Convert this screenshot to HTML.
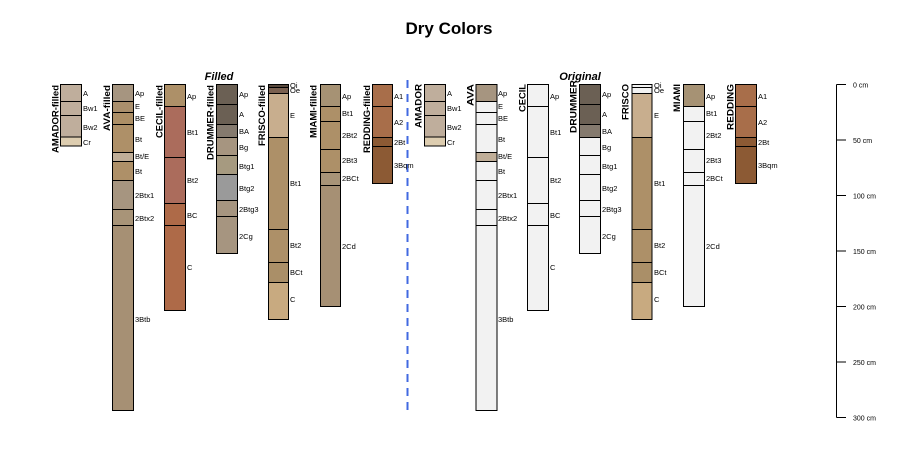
<!DOCTYPE html>
<html><head><meta charset="utf-8"><style>
html,body{margin:0;padding:0;background:#fff}
svg{display:block}
text{font-family:"Liberation Sans",Arial,sans-serif}
.h{font-size:7.5px;fill:#000}
.n{font-size:9px;font-weight:bold;fill:#000}
.a{font-size:7px;fill:#000}
rect{stroke:#000;stroke-width:1}
</style></head><body>
<svg width="900" height="450" viewBox="0 0 900 450" xmlns="http://www.w3.org/2000/svg">
<text x="449" y="34" text-anchor="middle" style="font-size:17px;font-weight:bold">Dry Colors</text>
<text x="219" y="80" text-anchor="middle" style="font-size:11px;font-weight:bold;font-style:italic">Filled</text>
<text x="580" y="80" text-anchor="middle" style="font-size:11px;font-weight:bold;font-style:italic">Original</text>
<line x1="407.5" y1="80" x2="407.5" y2="410" stroke="#4169e1" stroke-width="2" stroke-dasharray="8,6"/>

<!-- FILLED -->
<text class="n" transform="translate(58.3,85) rotate(-90)" text-anchor="end" textLength="68" lengthAdjust="spacingAndGlyphs">AMADOR-filled</text>
<rect x="60.5" y="84.5" width="21" height="17" fill="#bfae9c"/><rect x="60.5" y="101.5" width="21" height="14" fill="#bfae9c"/><rect x="60.5" y="115.5" width="21" height="21.5" fill="#bfae9c"/><rect x="60.5" y="137" width="21" height="9" fill="#ddcdb0"/>
<text class="h" x="83" y="96">A</text><text class="h" x="83" y="111">Bw1</text><text class="h" x="83" y="130">Bw2</text><text class="h" x="83" y="145">Cr</text>

<text class="n" transform="translate(110,85) rotate(-90)" text-anchor="end" textLength="46" lengthAdjust="spacingAndGlyphs">AVA-filled</text>
<rect x="112.5" y="84.5" width="21" height="17" fill="#a69580"/><rect x="112.5" y="101.5" width="21" height="11" fill="#aa8f6c"/><rect x="112.5" y="112.5" width="21" height="12" fill="#ad8f66"/><rect x="112.5" y="124.5" width="21" height="28" fill="#ae9068"/><rect x="112.5" y="152.5" width="21" height="9" fill="#c0ae98"/><rect x="112.5" y="161.5" width="21" height="19" fill="#ae9068"/><rect x="112.5" y="180.5" width="21" height="29" fill="#a69580"/><rect x="112.5" y="209.5" width="21" height="16" fill="#a89478"/><rect x="112.5" y="225.5" width="21" height="185" fill="#a69074"/>
<text class="h" x="135" y="96">Ap</text><text class="h" x="135" y="109">E</text><text class="h" x="135" y="121">BE</text><text class="h" x="135" y="142">Bt</text><text class="h" x="135" y="159">Bt/E</text><text class="h" x="135" y="174">Bt</text><text class="h" x="135" y="198">2Btx1</text><text class="h" x="135" y="221">2Btx2</text><text class="h" x="135" y="322">3Btb</text>

<text class="n" transform="translate(162.7,85) rotate(-90)" text-anchor="end" textLength="53" lengthAdjust="spacingAndGlyphs">CECIL-filled</text>
<rect x="164.5" y="84.5" width="21" height="22" fill="#ad9068"/><rect x="164.5" y="106.5" width="21" height="51" fill="#ab6c5c"/><rect x="164.5" y="157.5" width="21" height="46" fill="#ab6c5c"/><rect x="164.5" y="203.5" width="21" height="22" fill="#ae6a48"/><rect x="164.5" y="225.5" width="21" height="85" fill="#ae6a48"/>
<text class="h" x="187" y="99">Ap</text><text class="h" x="187" y="135">Bt1</text><text class="h" x="187" y="183">Bt2</text><text class="h" x="187" y="218">BC</text><text class="h" x="187" y="270">C</text>

<text class="n" transform="translate(213.3,85) rotate(-90)" text-anchor="end" textLength="75" lengthAdjust="spacingAndGlyphs">DRUMMER-filled</text>
<rect x="216.5" y="84.5" width="21" height="20" fill="#6b6054"/><rect x="216.5" y="104.5" width="21" height="20" fill="#6b6054"/><rect x="216.5" y="124.5" width="21" height="13" fill="#857a6e"/><rect x="216.5" y="137.5" width="21" height="18" fill="#a69580"/><rect x="216.5" y="155.5" width="21" height="19" fill="#a69a80"/><rect x="216.5" y="174.5" width="21" height="26" fill="#9a9a9a"/><rect x="216.5" y="200.5" width="21" height="16" fill="#a69580"/><rect x="216.5" y="216.5" width="21" height="37" fill="#a69580"/>
<text class="h" x="239" y="97">Ap</text><text class="h" x="239" y="117">A</text><text class="h" x="239" y="134">BA</text><text class="h" x="239" y="150">Bg</text><text class="h" x="239" y="169">Btg1</text><text class="h" x="239" y="191">Btg2</text><text class="h" x="239" y="212">2Btg3</text><text class="h" x="239" y="239">2Cg</text>

<text class="n" transform="translate(265,85) rotate(-90)" text-anchor="end" textLength="61" lengthAdjust="spacingAndGlyphs">FRISCO-filled</text>
<rect x="268.5" y="84.5" width="20" height="3" fill="#5a4a3e"/><rect x="268.5" y="87.5" width="20" height="6" fill="#7a6050"/><rect x="268.5" y="93.5" width="20" height="44" fill="#c8ae8e"/><rect x="268.5" y="137.5" width="20" height="92" fill="#ad9068"/><rect x="268.5" y="229.5" width="20" height="33" fill="#ad9068"/><rect x="268.5" y="262.5" width="20" height="20" fill="#aa8f68"/><rect x="268.5" y="282.5" width="20" height="37" fill="#c8aa80"/>
<text class="h" x="290" y="88">Oi</text><text class="h" x="290" y="93">Oe</text><text class="h" x="290" y="118">E</text><text class="h" x="290" y="186">Bt1</text><text class="h" x="290" y="248">Bt2</text><text class="h" x="290" y="275">BCt</text><text class="h" x="290" y="302">C</text>

<text class="n" transform="translate(316.7,85) rotate(-90)" text-anchor="end" textLength="53" lengthAdjust="spacingAndGlyphs">MIAMI-filled</text>
<rect x="320.5" y="84.5" width="20" height="22" fill="#a69274"/><rect x="320.5" y="106.5" width="20" height="15" fill="#ad9068"/><rect x="320.5" y="121.5" width="20" height="28" fill="#ad9068"/><rect x="320.5" y="149.5" width="20" height="23" fill="#ad9068"/><rect x="320.5" y="172.5" width="20" height="13" fill="#a89478"/><rect x="320.5" y="185.5" width="20" height="121" fill="#a69074"/>
<text class="h" x="342" y="99">Ap</text><text class="h" x="342" y="116">Bt1</text><text class="h" x="342" y="138">2Bt2</text><text class="h" x="342" y="163">2Bt3</text><text class="h" x="342" y="181">2BCt</text><text class="h" x="342" y="249">2Cd</text>

<text class="n" transform="translate(370,85) rotate(-90)" text-anchor="end" textLength="68" lengthAdjust="spacingAndGlyphs">REDDING-filled</text>
<rect x="372.5" y="84.5" width="20" height="22" fill="#a86e4a"/><rect x="372.5" y="106.5" width="20" height="31" fill="#a86e4a"/><rect x="372.5" y="137.5" width="20" height="9" fill="#8c5a34"/><rect x="372.5" y="146.5" width="20" height="37" fill="#8c5a34"/>
<text class="h" x="394" y="99">A1</text><text class="h" x="394" y="125">A2</text><text class="h" x="394" y="145">2Bt</text><text class="h" x="394" y="168">3Bqm</text>

<!-- ORIGINAL -->
<text class="n" transform="translate(421.7,84) rotate(-90)" text-anchor="end" textLength="44" lengthAdjust="spacingAndGlyphs">AMADOR</text>
<rect x="424.5" y="84.5" width="21" height="17" fill="#bfae9c"/><rect x="424.5" y="101.5" width="21" height="14" fill="#bfae9c"/><rect x="424.5" y="115.5" width="21" height="21.5" fill="#bfae9c"/><rect x="424.5" y="137" width="21" height="9" fill="#ddcdb0"/>
<text class="h" x="447" y="96">A</text><text class="h" x="447" y="111">Bw1</text><text class="h" x="447" y="130">Bw2</text><text class="h" x="447" y="145">Cr</text>

<text class="n" transform="translate(473.3,84) rotate(-90)" text-anchor="end" textLength="22" lengthAdjust="spacingAndGlyphs">AVA</text>
<rect x="476" y="84.5" width="21" height="17" fill="#a69580"/><rect x="476" y="101.5" width="21" height="11" fill="#f2f2f2"/><rect x="476" y="112.5" width="21" height="12" fill="#f2f2f2"/><rect x="476" y="124.5" width="21" height="28" fill="#f2f2f2"/><rect x="476" y="152.5" width="21" height="9" fill="#c0ae98"/><rect x="476" y="161.5" width="21" height="19" fill="#f2f2f2"/><rect x="476" y="180.5" width="21" height="29" fill="#f2f2f2"/><rect x="476" y="209.5" width="21" height="16" fill="#f2f2f2"/><rect x="476" y="225.5" width="21" height="185" fill="#f2f2f2"/>
<text class="h" x="498" y="96">Ap</text><text class="h" x="498" y="109">E</text><text class="h" x="498" y="121">BE</text><text class="h" x="498" y="142">Bt</text><text class="h" x="498" y="159">Bt/E</text><text class="h" x="498" y="174">Bt</text><text class="h" x="498" y="198">2Btx1</text><text class="h" x="498" y="221">2Btx2</text><text class="h" x="498" y="322">3Btb</text>

<text class="n" transform="translate(525.5,84) rotate(-90)" text-anchor="end" textLength="28" lengthAdjust="spacingAndGlyphs">CECIL</text>
<rect x="527.5" y="84.5" width="21" height="22" fill="#f2f2f2"/><rect x="527.5" y="106.5" width="21" height="51" fill="#f2f2f2"/><rect x="527.5" y="157.5" width="21" height="46" fill="#f2f2f2"/><rect x="527.5" y="203.5" width="21" height="22" fill="#f2f2f2"/><rect x="527.5" y="225.5" width="21" height="85" fill="#f2f2f2"/>
<text class="h" x="550" y="99">Ap</text><text class="h" x="550" y="135">Bt1</text><text class="h" x="550" y="183">Bt2</text><text class="h" x="550" y="218">BC</text><text class="h" x="550" y="270">C</text>

<text class="n" transform="translate(576.7,80) rotate(-90)" text-anchor="end" textLength="53" lengthAdjust="spacingAndGlyphs">DRUMMER</text>
<rect x="579.5" y="84.5" width="21" height="20" fill="#6b6054"/><rect x="579.5" y="104.5" width="21" height="20" fill="#6b6054"/><rect x="579.5" y="124.5" width="21" height="13" fill="#857a6e"/><rect x="579.5" y="137.5" width="21" height="18" fill="#f2f2f2"/><rect x="579.5" y="155.5" width="21" height="19" fill="#f2f2f2"/><rect x="579.5" y="174.5" width="21" height="26" fill="#f2f2f2"/><rect x="579.5" y="200.5" width="21" height="16" fill="#f2f2f2"/><rect x="579.5" y="216.5" width="21" height="37" fill="#f2f2f2"/>
<text class="h" x="602" y="97">Ap</text><text class="h" x="602" y="117">A</text><text class="h" x="602" y="134">BA</text><text class="h" x="602" y="150">Bg</text><text class="h" x="602" y="169">Btg1</text><text class="h" x="602" y="191">Btg2</text><text class="h" x="602" y="212">2Btg3</text><text class="h" x="602" y="239">2Cg</text>

<text class="n" transform="translate(628.3,84) rotate(-90)" text-anchor="end" textLength="36" lengthAdjust="spacingAndGlyphs">FRISCO</text>
<rect x="632" y="84.5" width="20" height="3" fill="#f2f2f2"/><rect x="632" y="87.5" width="20" height="6" fill="#f2f2f2"/><rect x="632" y="93.5" width="20" height="44" fill="#c8ae8e"/><rect x="632" y="137.5" width="20" height="92" fill="#ad9068"/><rect x="632" y="229.5" width="20" height="33" fill="#ad9068"/><rect x="632" y="262.5" width="20" height="20" fill="#aa8f68"/><rect x="632" y="282.5" width="20" height="37" fill="#c8aa80"/>
<text class="h" x="654" y="88">Oi</text><text class="h" x="654" y="93">Oe</text><text class="h" x="654" y="118">E</text><text class="h" x="654" y="186">Bt1</text><text class="h" x="654" y="248">Bt2</text><text class="h" x="654" y="275">BCt</text><text class="h" x="654" y="302">C</text>

<text class="n" transform="translate(680,84) rotate(-90)" text-anchor="end" textLength="28" lengthAdjust="spacingAndGlyphs">MIAMI</text>
<rect x="683.5" y="84.5" width="21" height="22" fill="#a69274"/><rect x="683.5" y="106.5" width="21" height="15" fill="#f2f2f2"/><rect x="683.5" y="121.5" width="21" height="28" fill="#f2f2f2"/><rect x="683.5" y="149.5" width="21" height="23" fill="#f2f2f2"/><rect x="683.5" y="172.5" width="21" height="13" fill="#f2f2f2"/><rect x="683.5" y="185.5" width="21" height="121" fill="#f2f2f2"/>
<text class="h" x="706" y="99">Ap</text><text class="h" x="706" y="116">Bt1</text><text class="h" x="706" y="138">2Bt2</text><text class="h" x="706" y="163">2Bt3</text><text class="h" x="706" y="181">2BCt</text><text class="h" x="706" y="249">2Cd</text>

<text class="n" transform="translate(733.3,84) rotate(-90)" text-anchor="end" textLength="46" lengthAdjust="spacingAndGlyphs">REDDING</text>
<rect x="735.5" y="84.5" width="21" height="22" fill="#a86e4a"/><rect x="735.5" y="106.5" width="21" height="31" fill="#a86e4a"/><rect x="735.5" y="137.5" width="21" height="9" fill="#8c5a34"/><rect x="735.5" y="146.5" width="21" height="37" fill="#8c5a34"/>
<text class="h" x="758" y="99">A1</text><text class="h" x="758" y="125">A2</text><text class="h" x="758" y="145">2Bt</text><text class="h" x="758" y="168">3Bqm</text>

<!-- AXIS -->
<g stroke="#000" stroke-width="1">
<line x1="836.5" y1="84.5" x2="836.5" y2="417.5"/>
<line x1="836.5" y1="84.5" x2="846" y2="84.5"/>
<line x1="836.5" y1="140" x2="846" y2="140"/>
<line x1="836.5" y1="195.5" x2="846" y2="195.5"/>
<line x1="836.5" y1="251" x2="846" y2="251"/>
<line x1="836.5" y1="306.5" x2="846" y2="306.5"/>
<line x1="836.5" y1="362" x2="846" y2="362"/>
<line x1="836.5" y1="417.5" x2="846" y2="417.5"/>
</g>
<text class="a" x="853" y="87.5">0 cm</text>
<text class="a" x="853" y="143">50 cm</text>
<text class="a" x="853" y="198.5">100 cm</text>
<text class="a" x="853" y="254">150 cm</text>
<text class="a" x="853" y="309.5">200 cm</text>
<text class="a" x="853" y="365">250 cm</text>
<text class="a" x="853" y="420.5">300 cm</text>
</svg>
</body></html>
